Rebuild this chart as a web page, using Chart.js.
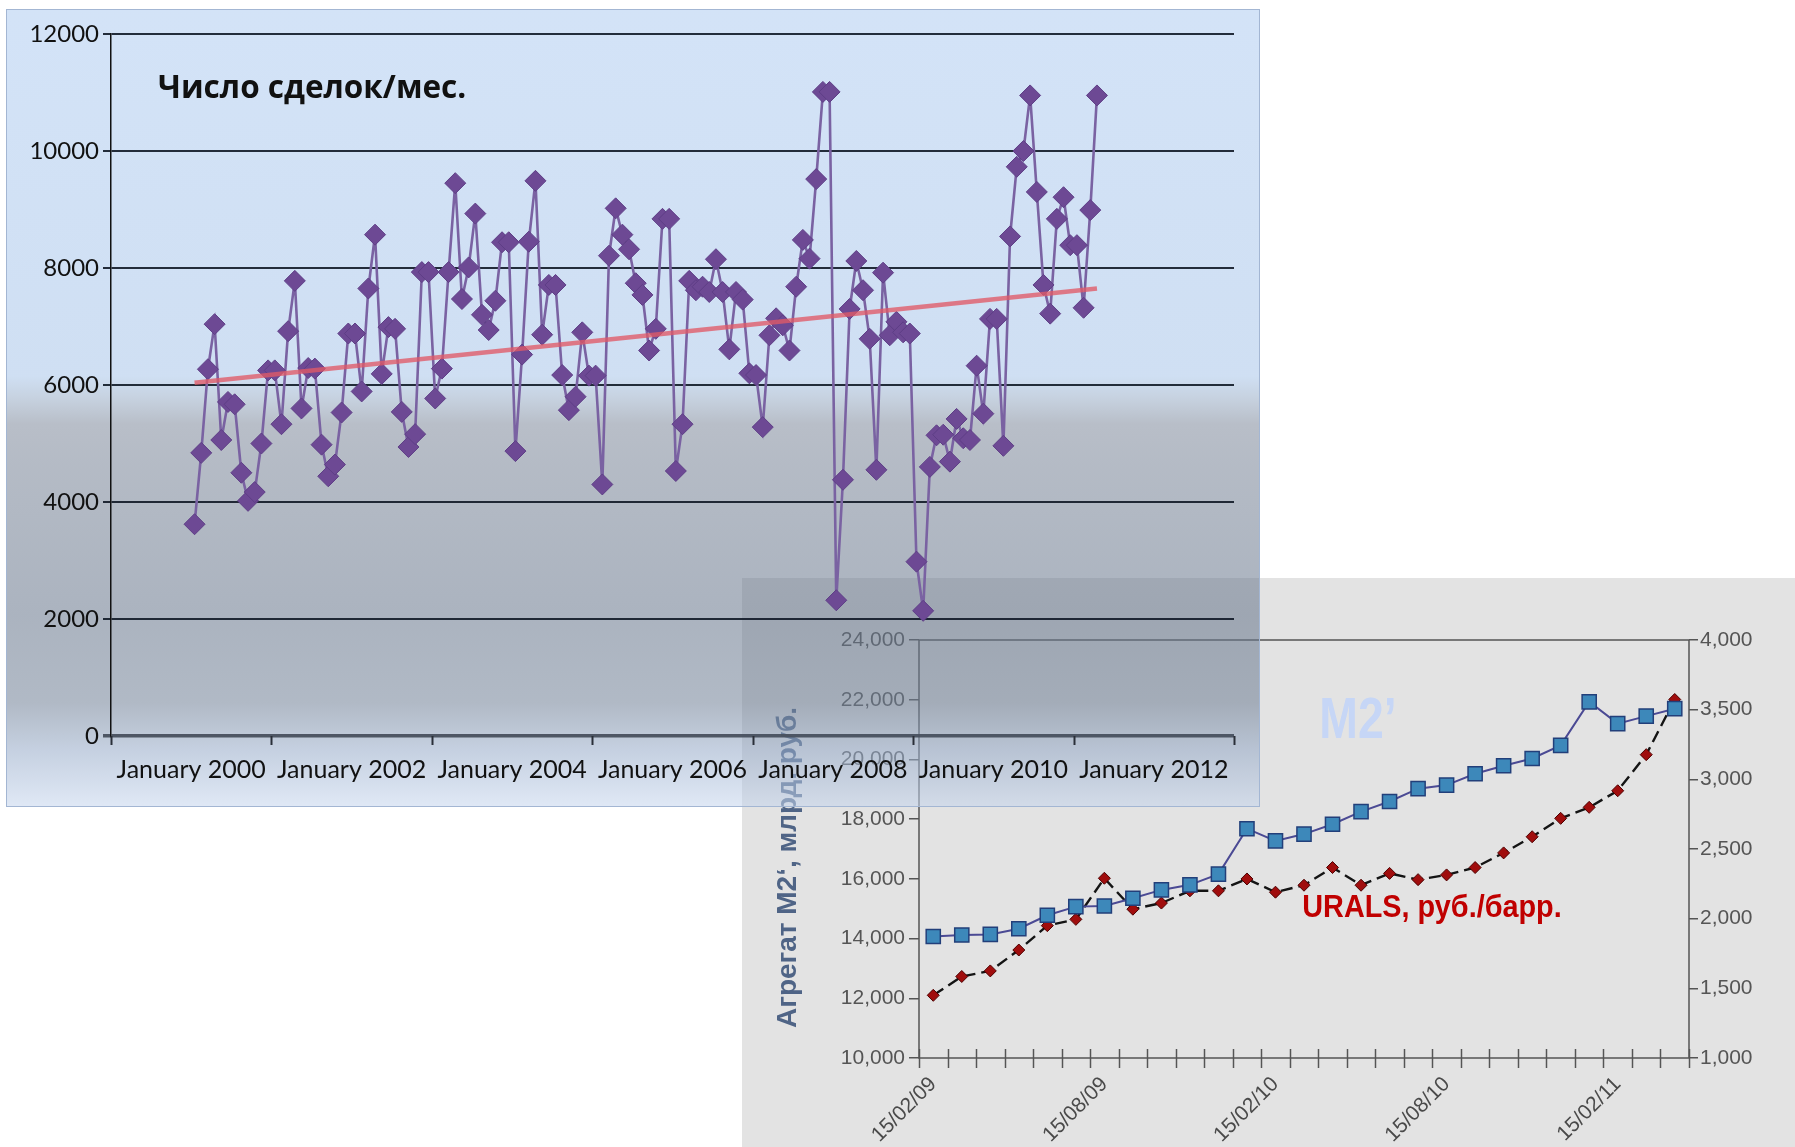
<!DOCTYPE html>
<html>
<head>
<meta charset="utf-8">
<title>Сделки, M2' и URALS</title>
<script src="https://cdn.jsdelivr.net/npm/chart.js@4.4.1/dist/chart.umd.min.js"></script>
<style>
  html, body { margin: 0; padding: 0; background: #ffffff; }
  body { position: relative; width: 1795px; height: 1147px; overflow: hidden; }
  #oil { position: absolute; left: 742px; top: 578px; background: #e3e3e3; z-index: 1; }
  #dealPanel {
    position: absolute; left: 6px; top: 9px; width: 1254px; height: 798px;
    box-sizing: border-box; border: 1px solid #a3b6d3; z-index: 2;
    background: linear-gradient(to bottom,
      rgba(175,204,241,0.55) 0%,
      rgba(168,197,233,0.55) 46%,
      rgba(150,170,195,0.55) 49%,
      rgba(126,137,155,0.55) 52%,
      rgba(119,131,150,0.55) 57%,
      rgba(102,117,139,0.55) 76%,
      rgba(112,128,150,0.55) 87%,
      rgba(150,170,200,0.55) 93%,
      rgba(197,213,237,0.55) 100%);
  }
  #deals { position: absolute; left: 6px; top: 9px; z-index: 3; }
</style>
</head>
<body>
<div id="dealPanel"></div>
<canvas id="deals" width="1254" height="798"></canvas>
<canvas id="oil" width="1053" height="569"></canvas>

<script>
// ---------- Число сделок в месяц, январь 2000 – апрель 2011 ----------
const dealCounts = [
  3620, 4840, 6270, 7040, 5060, 5710, 5670, 4500, 4020, 4170, 5000, 6250,
  6250, 5330, 6920, 7780, 5600, 6290, 6280, 4980, 4440, 4640, 5530, 6880,
  6880, 5890, 7650, 8570, 6190, 6990, 6960, 5540, 4940, 5160, 7930, 7930,
  5770, 6280, 7930, 9450, 7470, 8010, 8930, 7200, 6940, 7440, 8440, 8440,
  4870, 6520, 8450, 9490, 6860, 7710, 7710, 6170, 5570, 5800, 6900, 6160,
  6160, 4300, 8210, 9020, 8570, 8320, 7740, 7540, 6590, 6960, 8840, 8840,
  4530, 5330, 7780, 7620, 7680, 7590, 8150, 7590, 6610, 7590, 7460, 6200,
  6170, 5280, 6850, 7140, 7020, 6590, 7680, 8480, 8160, 9520, 11010, 11010,
  2320, 4380, 7300, 8120, 7620, 6790, 4550, 7920, 6850, 7080, 6900, 6880,
  2980, 2140, 4600, 5140, 5150, 4690, 5420, 5090, 5060, 6330, 5510, 7130,
  7130, 4960, 8540, 9730, 10000, 10950, 9300, 7710, 7220, 8840, 9210, 8390,
  8390, 7320, 8990, 10950
];
// linear trend: value at the first and at the last month
const dealTrend = [6040, 7650];
const dealAxisLabels = ['January 2000', 'January 2002', 'January 2004', 'January 2006',
                        'January 2008', 'January 2010', 'January 2012'];
const dealYTicks = [0, 2000, 4000, 6000, 8000, 10000, 12000];
const dealTitle = 'Число сделок/мес.';

// ---------- Агрегат M2' и цена URALS, февраль 2009 – апрель 2011 ----------
const oilDates = [
  '15/02/09', '15/03/09', '15/04/09', '15/05/09', '15/06/09', '15/07/09', '15/08/09',
  '15/09/09', '15/10/09', '15/11/09', '15/12/09', '15/01/10', '15/02/10', '15/03/10',
  '15/04/10', '15/05/10', '15/06/10', '15/07/10', '15/08/10', '15/09/10', '15/10/10',
  '15/11/10', '15/12/10', '15/01/11', '15/02/11', '15/03/11', '15/04/11'
];
const m2Agg = [
  14070, 14120, 14140, 14330, 14780, 15070, 15090, 15350, 15630, 15800, 16160, 17680,
  17270, 17500, 17830, 18250, 18590, 19020, 19140, 19520, 19790, 20030, 20470, 21930,
  21200, 21450, 21700
];
const uralsRub = [
  1450, 1585, 1625, 1775, 1950, 1995, 2290, 2068, 2112, 2200, 2200, 2285,
  2190, 2240, 2367, 2240, 2325, 2280, 2314, 2367, 2472, 2588, 2720, 2799,
  2918, 3177, 3573
];
const m2Ticks = [10000, 12000, 14000, 16000, 18000, 20000, 22000, 24000];
const uralsTicks = [1000, 1500, 2000, 2500, 3000, 3500, 4000];
const m2AxisTitle = 'Агрегат М2‘, млрд. руб.';
const m2Caption = 'M2’';
const uralsCaption = 'URALS, руб./барр.';

const withCommas = v => String(v).replace(/\B(?=(\d{3})+(?!\d))/g, ',');
// monthly values sit in the middle of their month on the time axis
const midMonth = i => i + 0.5;

// ---------- chart 1: deals per month ----------
const dealsDecor = {
  id: 'dealsDecor',
  afterDraw(chart) {
    const { ctx, chartArea } = chart;
    const x = chart.scales.x;
    ctx.save();
    // tick marks between the yearly labels
    ctx.strokeStyle = '#2a2f38';
    ctx.lineWidth = 2;
    for (let k = 0; k <= dealAxisLabels.length; k++) {
      const px = Math.round(x.getPixelForValue(-12 + 24 * k)) + 0.5;
      ctx.beginPath();
      ctx.moveTo(px, chartArea.bottom);
      ctx.lineTo(px, chartArea.bottom + 9);
      ctx.stroke();
    }
    // caption inside the plot
    ctx.fillStyle = '#111111';
    ctx.font = 'bold 31.5px "Open Sans", "DejaVu Sans", sans-serif';
    ctx.textBaseline = 'alphabetic';
    ctx.textAlign = 'left';
    ctx.fillText(dealTitle, 152, 89);
    ctx.restore();
  }
};

new Chart(document.getElementById('deals'), {
  type: 'line',
  data: {
    datasets: [
      {
        label: 'Тренд',
        data: [
          { x: midMonth(0), y: dealTrend[0] },
          { x: midMonth(dealCounts.length - 1), y: dealTrend[1] }
        ],
        borderColor: 'rgba(224,90,102,0.78)',
        borderWidth: 4.5,
        pointRadius: 0,
        order: 0
      },
      {
        label: dealTitle,
        data: dealCounts.map((v, i) => ({ x: midMonth(i), y: v })),
        borderColor: '#7a62a2',
        borderWidth: 2.6,
        pointStyle: 'rectRot',
        pointRadius: 10.5,
        pointBackgroundColor: '#6d4994',
        pointBorderColor: '#5e3e86',
        pointBorderWidth: 1,
        order: 1
      }
    ]
  },
  options: {
    responsive: false,
    animation: false,
    devicePixelRatio: 1,
    layout: { padding: { left: 0, right: 26, top: 25, bottom: 0 } },
    plugins: { legend: { display: false }, tooltip: { enabled: false } },
    scales: {
      x: {
        type: 'linear',
        min: -12,
        max: 156,
        grid: { display: false, drawTicks: false },
        border: { display: false },
        afterBuildTicks: s => { s.ticks = dealAxisLabels.map((_, k) => ({ value: 24 * k })); },
        afterFit: s => { s.height = 71; },
        ticks: {
          autoSkip: false,
          maxRotation: 0,
          padding: 19,
          color: '#111111',
          font: { family: 'Lato, "Open Sans", sans-serif', size: 25 },
          callback: v => dealAxisLabels[Math.round(v / 24)] ?? ''
        }
      },
      y: {
        min: 0,
        max: 12000,
        afterBuildTicks: s => { s.ticks = dealYTicks.map(v => ({ value: v })); },
        afterFit: s => { s.width = 105; },
        grid: {
          color: c => (c.tick && c.tick.value === 0) ? 'rgba(72,80,94,0.95)' : 'rgba(16,24,38,0.9)',
          lineWidth: c => (c.tick && c.tick.value === 0) ? 3.5 : 2,
          tickLength: 8
        },
        border: { display: true, color: '#111111', width: 1.5 },
        ticks: {
          padding: 4,
          color: '#111111',
          font: { family: 'Lato, "Open Sans", sans-serif', size: 24 },
          callback: v => String(v)
        }
      }
    }
  },
  plugins: [dealsDecor]
});

// ---------- chart 2: M2' aggregate and URALS price ----------
const oilDecor = {
  id: 'oilDecor',
  beforeDatasetsDraw(chart) {
    const { ctx, chartArea } = chart;
    const x = chart.scales.x;
    ctx.save();
    ctx.strokeStyle = '#555555';
    ctx.lineWidth = 1.5;
    ctx.strokeRect(chartArea.left, chartArea.top, chartArea.right - chartArea.left, chartArea.bottom - chartArea.top);
    // monthly tick marks crossing the date axis
    for (let i = 0; i <= oilDates.length; i++) {
      const px = Math.round(x.getPixelForValue(i - 0.5)) + 0.5;
      ctx.beginPath();
      ctx.moveTo(px, chartArea.bottom - 9);
      ctx.lineTo(px, chartArea.bottom + 10);
      ctx.stroke();
    }
    // left axis title, read bottom-up
    ctx.save();
    ctx.translate(46, 450);
    ctx.rotate(-Math.PI / 2);
    ctx.textAlign = 'left';
    ctx.textBaseline = 'middle';
    ctx.fillStyle = '#4f6486';
    ctx.font = 'bold 28px "Liberation Sans", Arial, sans-serif';
    ctx.fillText(m2AxisTitle, 0, 0);
    ctx.restore();
    ctx.restore();
  },
  afterDraw(chart) {
    const { ctx } = chart;
    ctx.save();
    ctx.textBaseline = 'middle';
    ctx.textAlign = 'center';
    // M2' caption
    ctx.save();
    ctx.translate(616, 144);
    ctx.scale(0.8, 1);
    ctx.fillStyle = '#c6d6f6';
    ctx.font = 'bold 58px "Liberation Sans", Arial, sans-serif';
    ctx.fillText(m2Caption, 0, 0);
    ctx.restore();
    // URALS caption
    ctx.save();
    ctx.translate(690, 330);
    ctx.scale(0.93, 1);
    ctx.fillStyle = '#c00000';
    ctx.font = 'bold 31px "Liberation Sans", Arial, sans-serif';
    ctx.fillText(uralsCaption, 0, 0);
    ctx.restore();
    ctx.restore();
  }
};

const tickFont = { family: '"Liberation Sans", Arial, sans-serif', size: 21 };

new Chart(document.getElementById('oil'), {
  type: 'line',
  data: {
    labels: oilDates,
    datasets: [
      {
        label: "M2'",
        data: m2Agg,
        yAxisID: 'y',
        borderColor: '#4b4a94',
        borderWidth: 2,
        pointStyle: 'rect',
        pointRadius: 10,
        pointBackgroundColor: '#3d88ba',
        pointBorderColor: '#223f7a',
        pointBorderWidth: 1.5,
        order: 0
      },
      {
        label: 'URALS',
        data: uralsRub,
        yAxisID: 'y2',
        borderColor: '#141414',
        borderWidth: 2.4,
        borderDash: [12, 6],
        pointStyle: 'rectRot',
        pointRadius: 6,
        pointBackgroundColor: '#a00d0d',
        pointBorderColor: '#4d0000',
        pointBorderWidth: 1,
        order: 1
      }
    ]
  },
  options: {
    responsive: false,
    animation: false,
    devicePixelRatio: 1,
    layout: { padding: { left: 27, right: 0, top: 62, bottom: 0 } },
    plugins: { legend: { display: false }, tooltip: { enabled: false } },
    scales: {
      x: {
        type: 'category',
        offset: true,
        grid: { display: false, drawTicks: false },
        border: { display: false },
        afterFit: s => { s.height = 89; },
        ticks: {
          autoSkip: false,
          minRotation: 45,
          maxRotation: 45,
          padding: 14,
          color: '#4a4a4a',
          font: { family: '"Liberation Sans", Arial, sans-serif', size: 21 },
          callback: (v, i) => (i % 6 === 0 ? oilDates[i] : '')
        }
      },
      y: {
        position: 'left',
        min: m2Ticks[0],
        max: m2Ticks[m2Ticks.length - 1],
        afterBuildTicks: s => { s.ticks = m2Ticks.map(v => ({ value: v })); },
        afterFit: s => { s.width = 150; },
        grid: { drawOnChartArea: false, tickLength: 10, color: '#555555', lineWidth: 1.5 },
        border: { display: false },
        ticks: { padding: 4, color: '#555555', font: tickFont, callback: v => withCommas(v) }
      },
      y2: {
        position: 'right',
        min: uralsTicks[0],
        max: uralsTicks[uralsTicks.length - 1],
        afterBuildTicks: s => { s.ticks = uralsTicks.map(v => ({ value: v })); },
        afterFit: s => { s.width = 106; },
        grid: { drawOnChartArea: false, tickLength: 9, color: '#555555', lineWidth: 1.5 },
        border: { display: false },
        ticks: { padding: 2, color: '#555555', font: tickFont, callback: v => withCommas(v) }
      }
    }
  },
  plugins: [oilDecor]
});
</script>
</body>
</html>
